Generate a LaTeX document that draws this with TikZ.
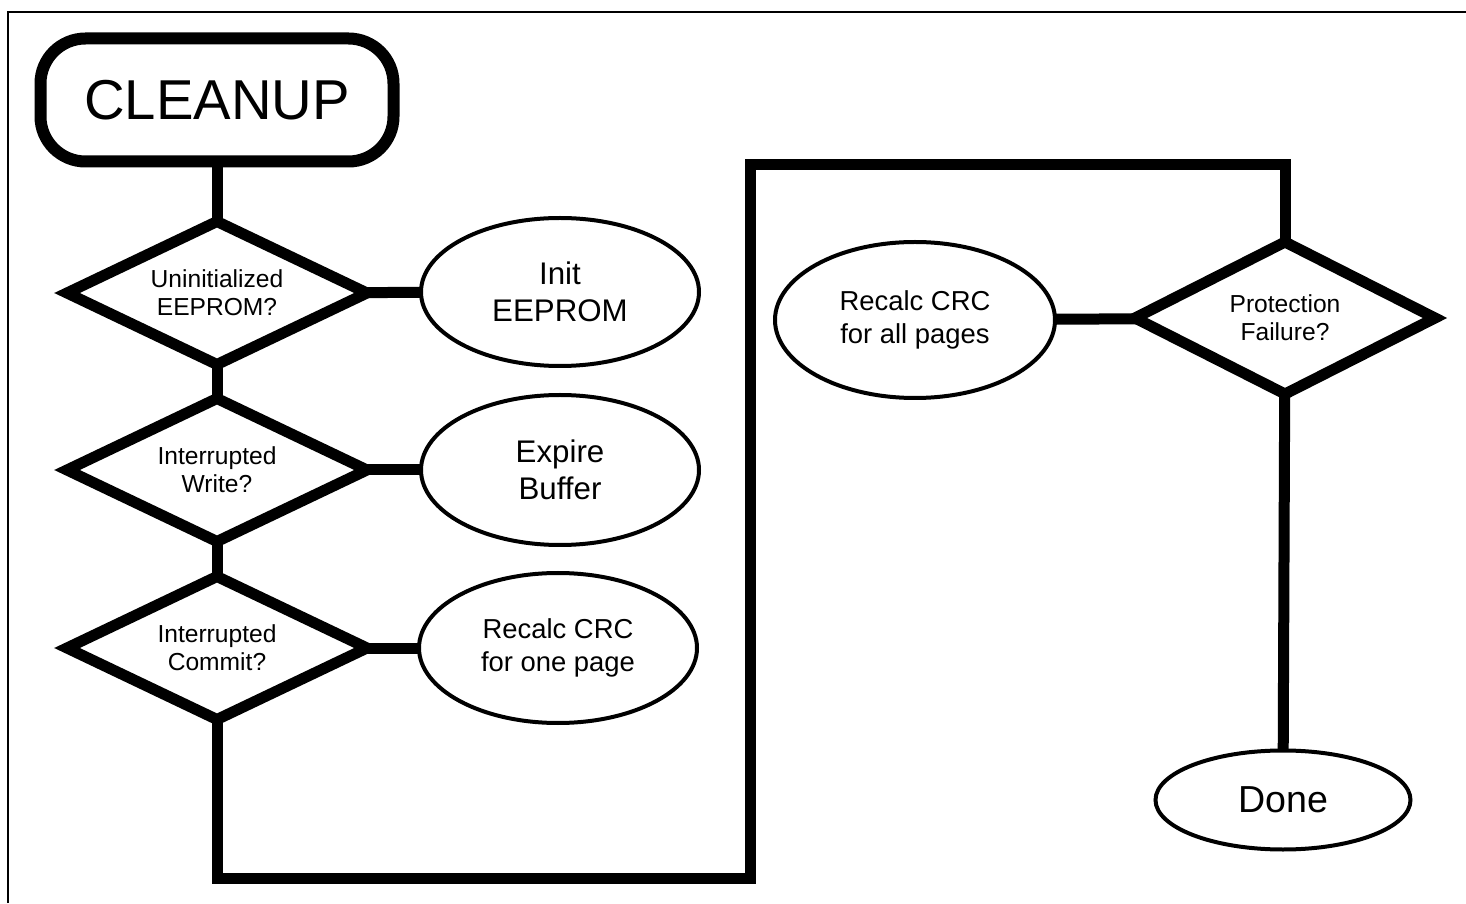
\documentclass[tikz,border=0pt]{standalone}
\usepackage{fontspec}
\setmainfont{Liberation Sans}
\usepackage{tikz}
\usetikzlibrary{shapes.geometric, positioning, calc}

\begin{document}
\begin{tikzpicture}[
    startbox/.style={rectangle, rounded corners=0.45cm, draw, line width=0.12cm, minimum width=3.53cm, minimum height=1.23cm, inner sep=0pt, outer sep=0pt, font=\fontsize{16}{18}\selectfont},
    decision/.style={diamond, aspect=2.3, draw, line width=0.11cm, minimum width=3.0cm, minimum height=1.43cm, inner sep=0pt, outer sep=0pt, align=center, font=\fontsize{7}{7.9}\selectfont},
    action/.style={ellipse, draw, line width=0.04cm, minimum width=2.78cm, minimum height=1.48cm, inner sep=0pt, outer sep=0pt, align=center},
    link/.style={line width=0.11cm}
]
    % Frame and page size
    \useasboundingbox (0, 0) rectangle (14.66, 9.03);
    \draw[line width=0.025cm] (0.08, 0) -- (0.08, 8.91) -- (14.66, 8.91);

    % Start
    \node[startbox] (cleanup) at (2.17, 8.03) {CLEANUP};

    % Checks
    \node[decision] (uninit) at (2.17, 6.10) {Uninitialized\\EEPROM?};
    \node[decision] (intwrite) at (2.17, 4.33) {Interrupted\\Write?};
    \node[decision] (intcommit) at (2.17, 2.55) {Interrupted\\Commit?};
    \node[decision, minimum height=1.52cm] (protfail) at (12.85, 5.85) {Protection\\Failure?};

    % Actions
    \node[action, font=\fontsize{8.9}{10.5}\selectfont] (initee) at (5.60, 6.11) {Init\\EEPROM};
    \node[action, minimum height=1.50cm, font=\fontsize{8.9}{10.5}\selectfont] (expire) at (5.60, 4.33) {Expire\\Buffer};
    \node[action, minimum height=1.50cm, font=\fontsize{7.8}{9.4}\selectfont] (crcone) at (5.58, 2.55) {Recalc CRC\\for one page};
    \node[action, minimum width=2.80cm, minimum height=1.56cm, font=\fontsize{7.8}{9.4}\selectfont] (crcall) at (9.15, 5.83) {Recalc CRC\\for all pages};
    \node[action, minimum width=2.55cm, minimum height=0.99cm, font=\fontsize{10.7}{12}\selectfont] (done) at (12.83, 1.03) {Done};

    % Turning points
    \coordinate (lowturn) at (7.50, 0.25);
    \coordinate (highturn) at (7.50, 7.38);

    % Connectors
    \draw[link] (cleanup) -- (uninit);
    \draw[link] (uninit) -- (intwrite);
    \draw[link] (intwrite) -- (intcommit);
    \draw[link] (uninit) -- (initee);
    \draw[link] (intwrite) -- (expire);
    \draw[link] (intcommit) -- (crcone);
    \draw[link] (intcommit.south) |- (lowturn) -- (highturn) -| (protfail.north);
    \draw[link] (crcall) -- (protfail);
    \draw[link] (protfail) -- (done);
\end{tikzpicture}
\end{document}
